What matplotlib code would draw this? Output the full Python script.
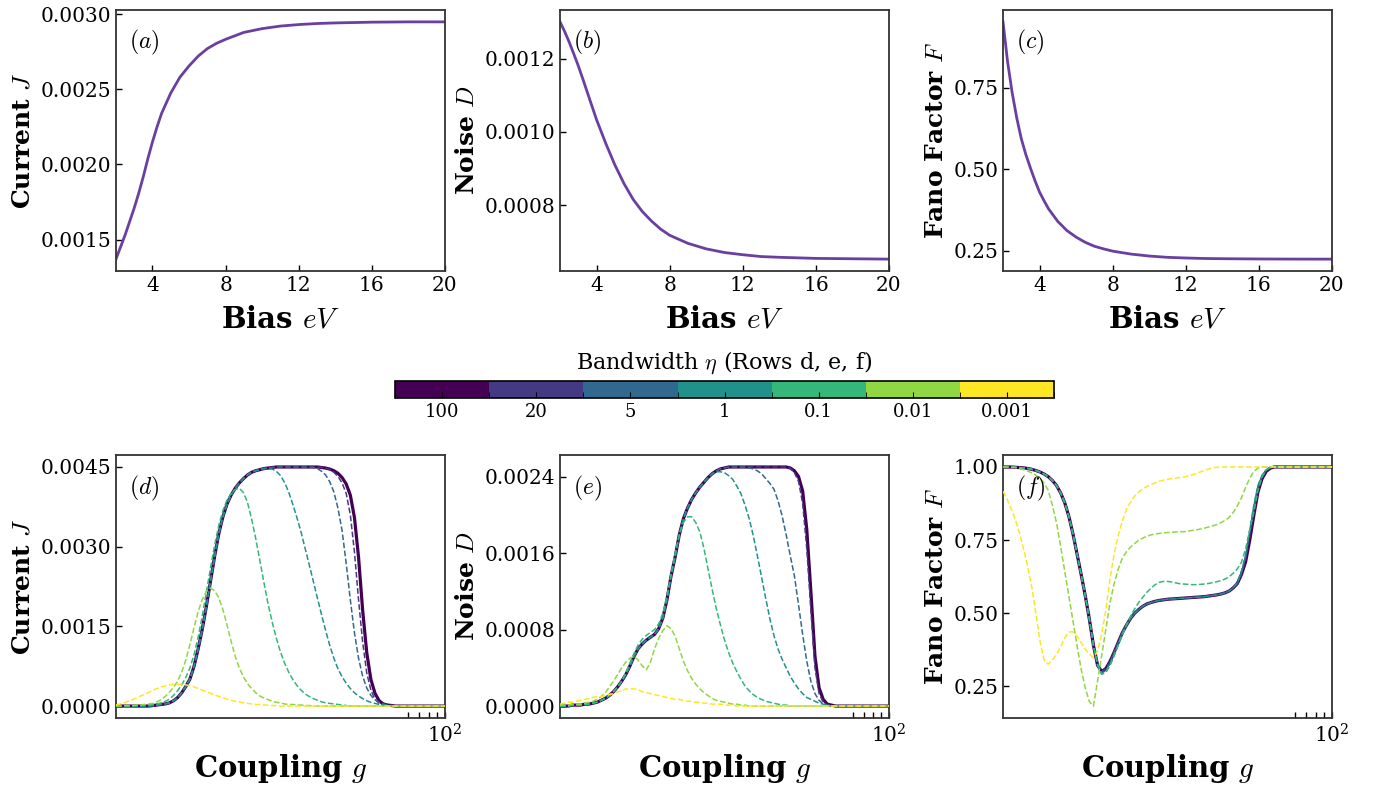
import numpy as np
import matplotlib
matplotlib.use("Agg")
import matplotlib.pyplot as plt
from matplotlib.colors import ListedColormap, BoundaryNorm
from matplotlib.colorbar import ColorbarBase
from matplotlib.ticker import FixedLocator, NullFormatter, FormatStrFormatter, LogFormatterSciNotation

plt.rcParams['font.family'] = 'DejaVu Serif'
plt.rcParams['mathtext.fontset'] = 'cm'
plt.rcParams['xtick.direction'] = 'in'
plt.rcParams['ytick.direction'] = 'in'
plt.rcParams['xtick.major.size'] = 4
plt.rcParams['ytick.major.size'] = 4
plt.rcParams['xtick.minor.size'] = 4
plt.rcParams['axes.edgecolor'] = '#333333'
plt.rcParams['axes.linewidth'] = 1.3

# ---- rows a, b, c: sweep over the bias ----
bias = [2, 2.25, 2.5, 2.75, 3, 3.25, 3.5, 3.75, 4, 4.25, 4.5, 5, 5.5, 6, 6.5, 7, 7.5, 8, 9,
        10, 11, 12, 13, 14, 16, 18, 20]
current_bias = [0.00137, 0.00145, 0.00153, 0.00162, 0.00171, 0.00181, 0.00192, 0.00204,
                0.00215, 0.00225, 0.00234, 0.002475, 0.00258, 0.002655, 0.00272, 0.00277,
                0.002805, 0.002832, 0.002878, 0.002903, 0.00292, 0.00293, 0.002937, 0.002941,
                0.002946, 0.002948, 0.002948]
noise_bias = [0.0013, 0.001274, 0.001245, 0.001213, 0.00118, 0.001144, 0.001107, 0.00107,
              0.001033, 0.001001, 0.000969, 0.00091, 0.000859, 0.000816, 0.000783, 0.000757,
              0.000735, 0.000718, 0.000696, 0.000681, 0.000671, 0.000665, 0.00066, 0.000658,
              0.000655, 0.000654, 0.000653]
fano_bias = [0.952, 0.83, 0.735, 0.658, 0.594, 0.545, 0.504, 0.465, 0.43, 0.403, 0.378, 0.34,
             0.312, 0.292, 0.276, 0.264, 0.256, 0.249, 0.24, 0.234, 0.23, 0.228, 0.2265,
             0.2258, 0.225, 0.2246, 0.2245]

# ---- rows d, e, f: sweep over the coupling for each bandwidth ----
coupling = np.logspace(0, 2, 81)
etas = ['100', '20', '5', '1', '0.1', '0.01', '0.001']

# current, panel d
d_rise = [0.0] * 9 + [0.00001, 0.00002, 0.00003, 0.00004, 0.00006, 0.0001, 0.00016, 0.00025,
                      0.00037, 0.00051, 0.00075, 0.00108, 0.00145, 0.00188, 0.00235, 0.00282,
                      0.00324, 0.00356, 0.0038, 0.00397, 0.0041, 0.0042, 0.00428, 0.00435,
                      0.0044, 0.00443, 0.00445, 0.00447, 0.00448, 0.00449]
current_g = {
    '100': d_rise + [0.0045] * 11
           + [0.00449, 0.00448, 0.00446, 0.00443, 0.00438, 0.0043, 0.00418, 0.00397, 0.00355,
              0.0028, 0.0018, 0.001, 0.0005, 0.00024, 0.0001, 0.00004, 0.00002, 0.00001]
           + [0.0] * 13,
    '20': d_rise + [0.0045] * 11
          + [0.00449, 0.00448, 0.00445, 0.0044, 0.00432, 0.0042, 0.004, 0.0036, 0.0029,
             0.002, 0.0012, 0.00062, 0.0003, 0.00013, 0.00005, 0.00002, 0.00001]
          + [0.0] * 14,
    '5': d_rise + [0.0045] * 9
         + [0.00449, 0.00447, 0.00442, 0.00435, 0.00422, 0.00403, 0.00372, 0.0033, 0.00268,
            0.002, 0.00138, 0.0009, 0.00056, 0.00034, 0.0002, 0.00012, 0.00007, 0.00004,
            0.00002, 0.00001]
         + [0.0] * 13,
    '1': d_rise[:37]
         + [0.00447, 0.00446, 0.00442, 0.00434, 0.00421, 0.00403, 0.0038, 0.00355, 0.00328,
            0.00297, 0.00266, 0.00235, 0.00203, 0.00172, 0.00142, 0.00114, 0.0009, 0.0007,
            0.00055, 0.00043, 0.00033, 0.00025, 0.00019, 0.00014, 0.0001, 0.00007, 0.00005,
            0.00003, 0.00002, 0.00001]
         + [0.0] * 14,
    '0.1': [0.0] * 5
           + [0.00001, 0.00001, 0.00002, 0.00002, 0.00003, 0.00004, 0.00006, 0.00009, 0.00013,
              0.0002, 0.00029, 0.0004, 0.00054, 0.00072, 0.00097, 0.0013, 0.0017, 0.00215,
              0.0026, 0.00303, 0.0034, 0.00368, 0.00388, 0.004, 0.00408, 0.0041, 0.00402,
              0.00383, 0.00352, 0.00315, 0.00274, 0.00232, 0.00192, 0.00158, 0.00128,
              0.00102, 0.00081, 0.00064, 0.0005, 0.00039, 0.0003, 0.00023, 0.00018, 0.00014,
              0.00011, 0.00008, 0.00006, 0.00005, 0.00004, 0.00003, 0.00002, 0.00001]
           + [0.0] * 24,
    '0.01': [0.0] * 2
            + [0.00001, 0.00001, 0.00001, 0.00002, 0.00002, 0.00003, 0.00004, 0.00005,
               0.00008, 0.00012, 0.00018, 0.00026, 0.00035, 0.00047, 0.00064, 0.00087,
               0.00116, 0.00148, 0.00178, 0.00201, 0.00216, 0.00222, 0.00217, 0.00204,
               0.00182, 0.00153, 0.00122, 0.00094, 0.00072, 0.00055, 0.00042, 0.00033,
               0.00025, 0.00019, 0.00015, 0.00012, 0.00009, 0.00007, 0.00006, 0.00004,
               0.00003, 0.00003, 0.00002, 0.00002, 0.00001, 0.00001]
            + [0.0] * 33,
    '0.001': [0.00002, 0.00004, 0.00006, 0.00009, 0.00012, 0.00015, 0.00019, 0.00022, 0.00026,
              0.0003, 0.00033, 0.00036, 0.00038, 0.0004, 0.00041, 0.00041, 0.00041, 0.0004,
              0.00038, 0.00036, 0.00033, 0.0003, 0.00027, 0.00024, 0.00021, 0.00018, 0.00016,
              0.00013, 0.00011, 0.00009, 0.00008, 0.00006, 0.00005, 0.00004, 0.00003,
              0.00003, 0.00002, 0.00002, 0.00001, 0.00001]
             + [0.0] * 41,
}

# noise, panel e
e_rise = [0.0] * 3 + [0.00001, 0.00001, 0.00001, 0.00002, 0.00002, 0.00003, 0.00004, 0.00006,
                      0.00008, 0.00011, 0.00015, 0.0002, 0.00026, 0.00033, 0.00042, 0.00052,
                      0.0006, 0.00065, 0.00069, 0.00072, 0.00075, 0.00081, 0.00092, 0.00111,
                      0.00136, 0.00156, 0.00179, 0.00196, 0.00207, 0.00216, 0.00223, 0.00229,
                      0.00234, 0.00239, 0.00243, 0.00246, 0.00248, 0.00249]
noise_g = {
    '100': e_rise + [0.0025] * 15
           + [0.00249, 0.00246, 0.0024, 0.00225, 0.00185, 0.0012, 0.00052, 0.00019, 0.00007,
              0.00002, 0.00001]
           + [0.0] * 14,
    '20': e_rise + [0.0025] * 15
          + [0.00249, 0.00244, 0.00235, 0.00212, 0.00165, 0.001, 0.0004, 0.00013, 0.00004,
             0.00001]
          + [0.0] * 15,
    '5': e_rise + [0.0025] * 5
         + [0.00249, 0.00248, 0.00246, 0.00243, 0.00238, 0.00233, 0.00227, 0.00215, 0.00199,
            0.00179, 0.00157, 0.00136, 0.00106, 0.00075, 0.00047, 0.00026, 0.00013, 0.00006,
            0.00002, 0.00001]
         + [0.0] * 15,
    '1': e_rise[:37]
         + [0.00243, 0.00245, 0.00245, 0.00244, 0.00241, 0.00237, 0.0023, 0.00222, 0.0021,
            0.00196, 0.00178, 0.00157, 0.00135, 0.00113, 0.00092, 0.00074, 0.0006, 0.00049,
            0.0004, 0.00031, 0.00024, 0.00018, 0.00013, 0.00009, 0.00007, 0.00005, 0.00003,
            0.00002, 0.00001]
         + [0.0] * 15,
    '0.1': e_rise[:16]
           + [0.00035, 0.00045, 0.00055, 0.00064, 0.0007, 0.00074, 0.00077, 0.0008, 0.00086,
              0.00097, 0.00115, 0.00138, 0.0016, 0.00179, 0.00192, 0.00198, 0.00198, 0.00192,
              0.00182, 0.00165, 0.00143, 0.00122, 0.00102, 0.00085, 0.00069, 0.00056,
              0.00045, 0.00036, 0.00028, 0.00021, 0.00016, 0.00012, 0.00009, 0.00007,
              0.00005, 0.00004, 0.00003, 0.00002, 0.00001, 0.00001]
           + [0.0] * 25,
    '0.01': [0.00001, 0.00001, 0.00001, 0.00002, 0.00002, 0.00002, 0.00003, 0.00004, 0.00005,
             0.00007, 0.0001, 0.00014, 0.0002, 0.00026, 0.00033, 0.0004, 0.00046, 0.0005,
             0.00052, 0.00048, 0.00042, 0.00038, 0.00046, 0.0006, 0.00071, 0.00079, 0.00084,
             0.00081, 0.00073, 0.0006, 0.00047, 0.00037, 0.00029, 0.00023, 0.00018, 0.00014,
             0.00011, 0.00008, 0.00006, 0.00005, 0.00004, 0.00003, 0.00002, 0.00002,
             0.00001, 0.00001]
            + [0.0] * 35,
    '0.001': [0.00002, 0.00003, 0.00004, 0.00004, 0.00005, 0.00006, 0.00007, 0.00008, 0.00009,
              0.0001, 0.0001, 0.00011, 0.00012, 0.00013, 0.00015, 0.00016, 0.00018, 0.00018,
              0.00018, 0.00017, 0.00015, 0.00014, 0.00013, 0.00012, 0.00011, 0.0001, 0.00009,
              0.00008, 0.00007, 0.00007, 0.00006, 0.00005, 0.00005, 0.00004, 0.00004,
              0.00003, 0.00003, 0.00002, 0.00002, 0.00002, 0.00001, 0.00001, 0.00001]
             + [0.0] * 38,
}

# Fano factor, panel f
f_base = [1.0, 1.0, 1.0, 0.999, 0.998, 0.997, 0.995, 0.992, 0.988, 0.983, 0.976, 0.967, 0.954,
          0.937, 0.912, 0.878, 0.832, 0.772, 0.703, 0.633, 0.56, 0.48, 0.39, 0.322, 0.301,
          0.311, 0.335, 0.366, 0.40, 0.433, 0.459, 0.482, 0.5, 0.513, 0.524, 0.532, 0.537,
          0.541, 0.544, 0.546, 0.548, 0.549, 0.55, 0.551, 0.552, 0.553, 0.554, 0.555, 0.556,
          0.557, 0.559, 0.561, 0.563, 0.566, 0.57, 0.576, 0.587, 0.602, 0.633, 0.676, 0.75,
          0.835, 0.915, 0.96, 0.985, 0.996, 1.0]
fano_g = {
    '100': f_base + [1.0] * 14,
    '20': f_base[:59] + [0.685, 0.765, 0.85, 0.925, 0.965, 0.988, 0.997, 1.0] + [1.0] * 14,
    '5': f_base[:23] + [0.328, 0.296, 0.305, 0.33] + f_base[27:58]
         + [0.64, 0.695, 0.78, 0.865, 0.935, 0.97, 0.99, 0.998, 1.0] + [1.0] * 14,
    '1': f_base[:23] + [0.325, 0.292, 0.298, 0.322, 0.355, 0.392] + f_base[29:56]
         + [0.588, 0.605, 0.645, 0.7, 0.785, 0.87, 0.937, 0.972, 0.99, 0.998, 1.0]
         + [1.0] * 14,
    '0.1': f_base[:24]
           + [0.292, 0.3, 0.323, 0.355, 0.39, 0.425, 0.46, 0.49, 0.515, 0.537, 0.555, 0.572,
              0.586, 0.598, 0.606, 0.609, 0.609, 0.607, 0.604, 0.601, 0.6, 0.599, 0.598, 0.598,
              0.599, 0.6, 0.602, 0.605, 0.608, 0.612, 0.617, 0.625, 0.637, 0.652, 0.675, 0.72,
              0.785, 0.845, 0.92, 0.965, 0.99, 0.998, 1.0]
           + [1.0] * 14,
    '0.01': [1.0, 1.0, 0.999, 0.998, 0.995, 0.991, 0.986, 0.98, 0.972, 0.96, 0.945, 0.92, 0.87,
             0.81, 0.73, 0.645, 0.56, 0.475, 0.39, 0.31, 0.245, 0.198, 0.183, 0.27, 0.355,
             0.445, 0.535, 0.6, 0.65, 0.688, 0.71, 0.726, 0.738, 0.75, 0.757, 0.764, 0.768,
             0.771, 0.773, 0.775, 0.776, 0.777, 0.778, 0.779, 0.779, 0.781, 0.783, 0.785,
             0.788, 0.791, 0.795, 0.799, 0.803, 0.81, 0.817, 0.828, 0.845, 0.868, 0.895, 0.93,
             0.962, 0.985, 0.996]
            + [1.0] * 18,
    '0.001': [0.917, 0.89, 0.857, 0.82, 0.775, 0.72, 0.66, 0.59, 0.5, 0.405, 0.34, 0.326, 0.34,
              0.36, 0.385, 0.415, 0.436, 0.437, 0.422, 0.4, 0.378, 0.36, 0.348, 0.37, 0.43,
              0.51, 0.615, 0.7, 0.765, 0.815, 0.855, 0.88, 0.9, 0.915, 0.925, 0.934, 0.94,
              0.946, 0.951, 0.955, 0.958, 0.96, 0.962, 0.964, 0.966, 0.969, 0.973, 0.978,
              0.983, 0.988, 0.993, 0.997, 0.999]
             + [1.0] * 28,
}

colors = plt.cm.viridis(np.linspace(0, 1, len(etas)))
bias_color = '#6b3fa0'

fig = plt.figure(figsize=(13.77, 7.94), dpi=100)

lefts = [0.0842, 0.4067, 0.7284]
ax_w = 0.2389
top_row = [fig.add_axes([l, 0.6587, ax_w, 0.3287]) for l in lefts]
bot_row = [fig.add_axes([l, 0.0957, ax_w, 0.3312]) for l in lefts]


def style(ax, tag):
    ax.tick_params(labelsize=14.5, top=False, right=False, width=1.0)
    ax.text(0.04, 0.93, r'$(%s)$' % tag, transform=ax.transAxes, fontsize=17, va='top')


# bias sweeps
top_data = [(current_bias, r'Current $J$', [0.0015, 0.0020, 0.0025, 0.0030], '%.4f'),
            (noise_bias, r'Noise $D$', [0.0008, 0.0010, 0.0012], '%.4f'),
            (fano_bias, r'Fano Factor $F$', [0.25, 0.50, 0.75], '%.2f')]
for ax, (vals, ylab, yt, fmt), tag in zip(top_row, top_data, 'abc'):
    ax.plot(bias, vals, color=bias_color, lw=2.0)
    ax.set_xlim(2, 20)
    ax.set_xticks([4, 8, 12, 16, 20])
    ax.yaxis.set_major_locator(FixedLocator(yt))
    ax.yaxis.set_major_formatter(FormatStrFormatter(fmt))
    ax.set_xlabel(r'Bias $eV$', fontsize=21, fontweight='bold', labelpad=7)
    ax.set_ylabel(ylab, fontsize=18, fontweight='bold')
    style(ax, tag)

# coupling sweeps, one curve per bandwidth
bot_data = [(current_g, r'Current $J$', [0, 0.0015, 0.0030, 0.0045], '%.4f'),
            (noise_g, r'Noise $D$', [0, 0.0008, 0.0016, 0.0024], '%.4f'),
            (fano_g, r'Fano Factor $F$', [0.25, 0.50, 0.75, 1.00], '%.2f')]
for ax, (series, ylab, yt, fmt), tag in zip(bot_row, bot_data, 'def'):
    for k, eta in enumerate(etas):
        if k == 0:
            ax.plot(coupling, series[eta], color=colors[k], lw=2.3, zorder=2)
        else:
            ax.plot(coupling, series[eta], color=colors[k], lw=1.1, ls='--', zorder=3)
    ax.set_xscale('log')
    ax.set_xlim(1, 100)
    ax.xaxis.set_major_locator(FixedLocator([100]))
    ax.xaxis.set_major_formatter(LogFormatterSciNotation())
    ax.xaxis.set_minor_locator(FixedLocator([60, 70, 80, 90]))
    ax.xaxis.set_minor_formatter(NullFormatter())
    ax.yaxis.set_major_locator(FixedLocator(yt))
    ax.yaxis.set_major_formatter(FormatStrFormatter(fmt))
    ax.set_xlabel(r'Coupling $g$', fontsize=21, fontweight='bold')
    ax.set_ylabel(ylab, fontsize=18, fontweight='bold')
    ax.tick_params(which='minor', top=False, width=1.0)
    style(ax, tag)

# discrete bandwidth colour key
cax = fig.add_axes([0.2869, 0.4987, 0.4786, 0.0214])
cb = ColorbarBase(cax, cmap=ListedColormap(colors), norm=BoundaryNorm(np.arange(8), 7),
                  orientation='horizontal', ticks=np.arange(7) + 0.5)
cb.set_ticklabels(etas)
cb.outline.set_linewidth(1.2)
cb.outline.set_edgecolor('black')
cax.tick_params(direction='in', length=4, labelsize=13)
cax.xaxis.set_label_position('top')
cb.set_label(r'Bandwidth $\eta$ (Rows d, e, f)', fontsize=16, labelpad=9)

fig.savefig('out.png', dpi=100)
